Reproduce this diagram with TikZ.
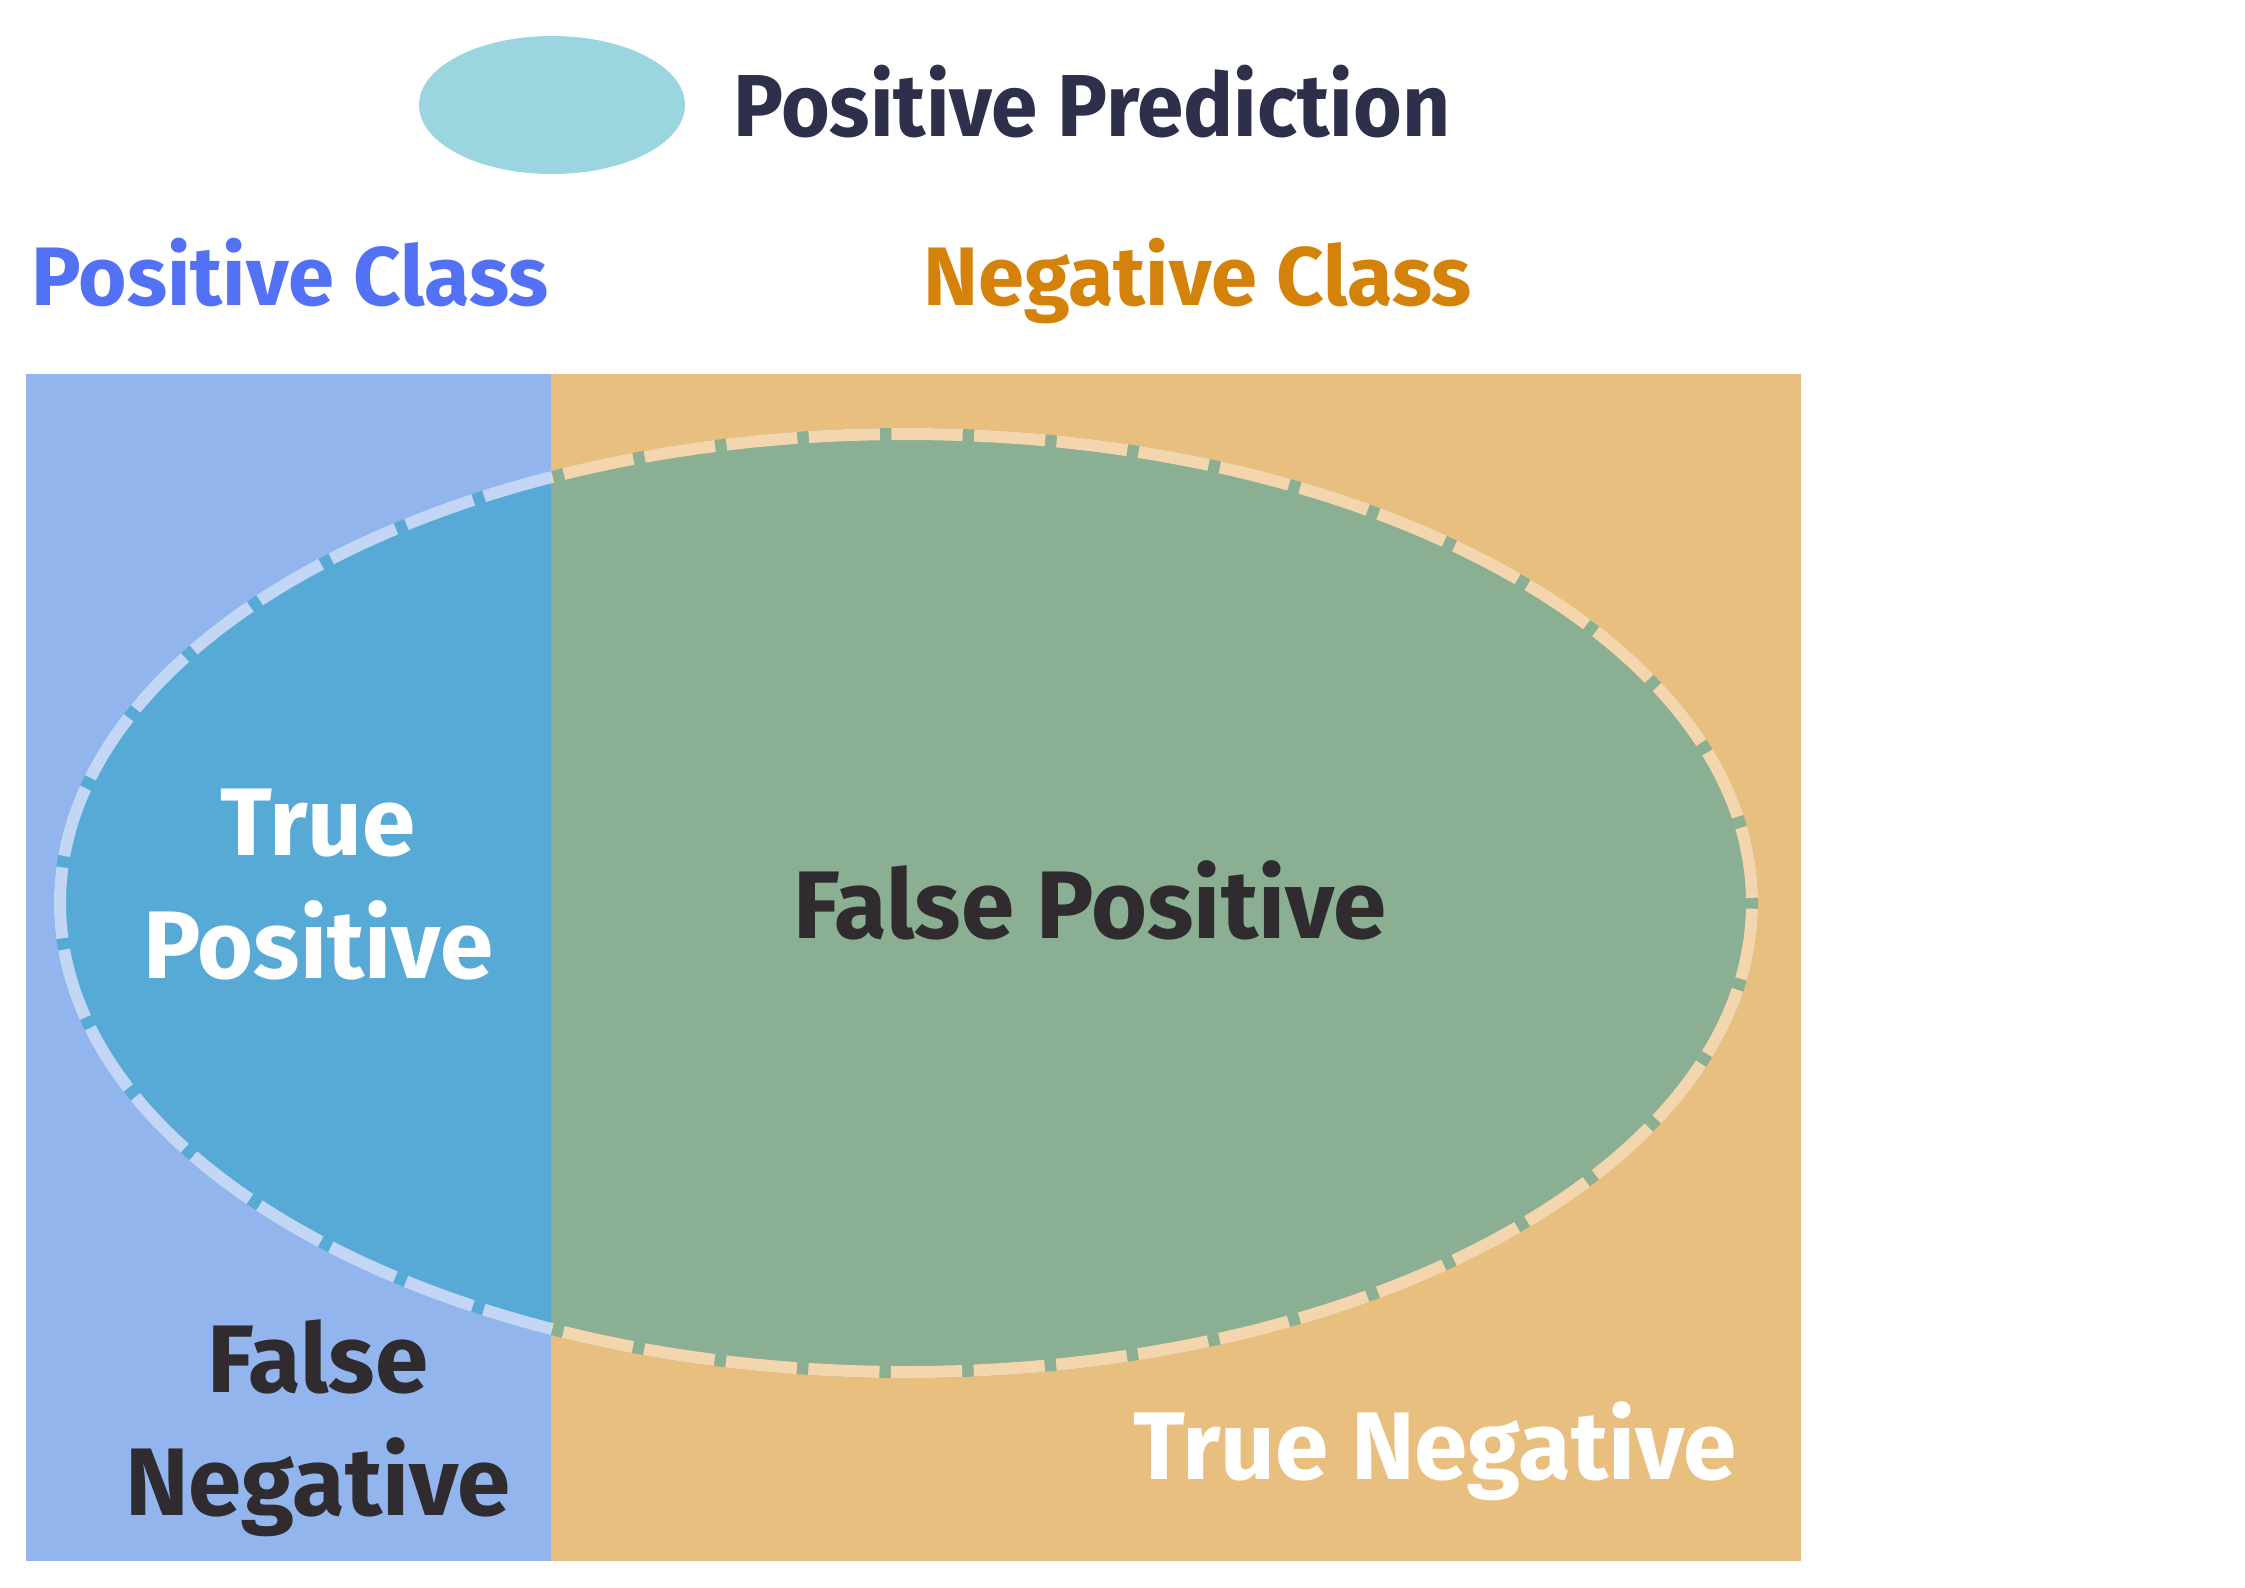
\documentclass[tikz,border=0pt]{standalone}
\usepackage{fontspec}
\setmainfont{Fira Sans}
\definecolor{posbg}{HTML}{91B5EC}
\definecolor{negbg}{HTML}{E9BF80}
\definecolor{tpfill}{HTML}{58AAD6}
\definecolor{fpfill}{HTML}{8AAF92}
\definecolor{strokeneg}{HTML}{F3D6AE}
\definecolor{strokepos}{HTML}{C3D6F5}
\definecolor{legfill}{HTML}{9AD5E0}
\definecolor{postxt}{HTML}{5271F5}
\definecolor{negtxt}{HTML}{D5820B}
\definecolor{darktxt}{HTML}{2F2B2E}
\definecolor{legtxt}{HTML}{2E2F4B}
\begin{document}
\begin{tikzpicture}[x=0.5pt,y=-0.5pt,
  lbl/.style={font=\fontsize{48pt}{61.5pt}\selectfont\bfseries, inner sep=0pt, align=center},
  classlbl/.style={font=\fontsize{41.5pt}{50pt}\selectfont\bfseries, inner sep=0pt, anchor=base west},
  ringstroke/.style={line width=6pt, dash pattern=on 35.6pt off 5.75pt, dash phase=38.5pt}]
\useasboundingbox (0,0) rectangle (2245,1587);
\fill[white] (0,0) rectangle (2245,1587);
% legend
\fill[legfill] (552,105) ellipse [x radius=66.5pt, y radius=34.5pt];
\node[font=\fontsize{44pt}{54pt}\selectfont\bfseries, text=legtxt, inner sep=0pt, anchor=base west] (legend) at (733,136) {\scalebox{0.95}[1]{Positive Prediction}};
% class headers
\node[classlbl, text=postxt] (posclass) at (31,305) {Positive Class};
\node[classlbl, text=negtxt] (negclass) at (923,305) {Negative Class};
% backgrounds
\fill[posbg] (26,374) rectangle (551,1561);
\fill[negbg] (551,374) rectangle (1801,1561);
% ellipse left part
\begin{scope}
  \clip (0,0) rectangle (551,1587);
  \fill[tpfill] (906,903) ellipse [x radius=426pt, y radius=237.5pt];
  \draw[ringstroke, strokepos] (1752,903) arc [start angle=0, end angle=-360, x radius=423pt, y radius=234.5pt];
\end{scope}
\begin{scope}
  \clip (551,0) rectangle (2245,1587);
  \fill[fpfill] (906,903) ellipse [x radius=426pt, y radius=237.5pt];
  \draw[ringstroke, strokeneg] (1752,903) arc [start angle=0, end angle=-360, x radius=423pt, y radius=234.5pt];
\end{scope}
% labels
\node[lbl, text=white, anchor=base] (tp) at (318,978) {True\\Positive};
\node[lbl, text=darktxt, anchor=base] (fp) at (1090,938) {False Positive};
\node[lbl, text=darktxt, anchor=base] (fn) at (318,1515) {False\\Negative};
\node[lbl, text=white, anchor=base] (tn) at (1435,1479) {True Negative};
\end{tikzpicture}
\end{document}
